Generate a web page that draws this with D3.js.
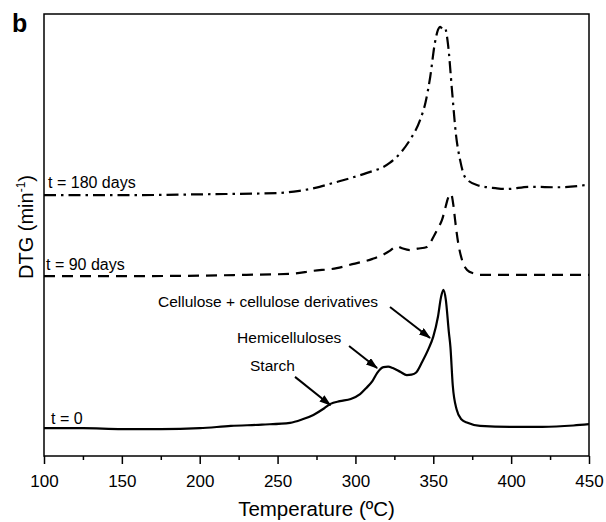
<!DOCTYPE html>
<html>
<head>
<meta charset="utf-8">
<script src="https://cdn.jsdelivr.net/npm/d3@7"></script>
<style>
  body { margin: 0; background: #fff; }
  text { font-family: "Liberation Sans", Arial, sans-serif; fill: #000; }
</style>
</head>
<body>
<div id="chart"></div>
<script>
// temperatures (ºC) and DTG readings (arbitrary units, curves are offset)
const t0_temp = [100, 125, 150, 175, 200, 220, 240, 258, 266, 273, 280, 284, 290, 297, 303, 307, 311, 314, 318, 321, 324, 329, 333, 336, 339, 343, 347, 350, 353, 355, 356.5, 358, 360, 361, 362.5, 365, 368, 372, 380, 400, 420, 440, 450];
const t0_dtg  = [6.3, 6.3, 6.1, 6.1, 6.3, 6.8, 7.1, 7.5, 8.3, 9.3, 10.8, 11.8, 12.4, 12.9, 14.0, 15.4, 17.0, 18.8, 20.1, 20.2, 19.9, 19.0, 18.3, 18.4, 18.9, 21.4, 24.3, 27.0, 31.5, 36.0, 37.6, 35.5, 28.0, 24.7, 16.0, 10.5, 8.3, 7.5, 6.8, 6.6, 6.6, 6.9, 7.2];

const t90_temp = [100, 150, 200, 230, 258, 273, 288, 298, 311, 318, 322, 325, 327, 330, 335, 340, 346, 350, 353, 355.6, 358, 359.5, 361.4, 363, 364, 366, 368.5, 371.7, 376, 380, 450];
const t90_dtg  = [40.7, 40.7, 40.8, 41.0, 41.2, 41.9, 42.5, 43.4, 44.6, 45.6, 46.4, 47.2, 47.4, 47.0, 46.6, 46.9, 47.3, 49.5, 51.5, 53.4, 56.5, 58.4, 59.3, 56.5, 53.4, 48.2, 44.3, 42.1, 41.3, 41.0, 41.0];

const t180_temp = [100, 150, 200, 250, 264, 277, 286, 297, 307, 322, 329, 335, 341.5, 345, 348, 351, 353, 354.5, 356, 357.5, 359.5, 362, 364.6, 367.2, 370.4, 378, 390, 397, 412, 430, 450];
const t180_dtg  = [59.0, 59.0, 59.2, 59.5, 60.0, 60.9, 61.8, 62.9, 64.0, 66.3, 68.6, 71.5, 76.0, 80.0, 85.7, 93.4, 96.4, 97.1, 96.6, 96.8, 93.0, 82.8, 72.6, 67.0, 63.1, 61.3, 60.6, 60.4, 60.9, 60.8, 61.4];

const curve_labels = ["t = 0", "t = 90 days", "t = 180 days"];
const x_ticks = [100, 150, 200, 250, 300, 350, 400, 450];
const x_minor = [125, 175, 225, 275, 325, 375, 425];
const annotations = ["Starch", "Hemicelluloses", "Cellulose + cellulose derivatives"];

const W = 606, H = 522;
const margin = { top: 14, right: 17, bottom: 66, left: 44 };
const width = W - margin.left - margin.right;
const height = H - margin.top - margin.bottom;

const svg = d3.select("#chart").append("svg")
  .attr("width", W)
  .attr("height", H);

const g = svg.append("g")
  .attr("transform", `translate(${margin.left},${margin.top})`);

const x = d3.scaleLinear().domain([100, 450]).range([0, width]);
const y = d3.scaleLinear().domain([0, 100]).range([height, 0]);

// arrow head for the annotations
svg.append("defs").append("marker")
  .attr("id", "arrow")
  .attr("viewBox", "0 0 12 8")
  .attr("refX", 11)
  .attr("refY", 4)
  .attr("markerUnits", "userSpaceOnUse")
  .attr("markerWidth", 12)
  .attr("markerHeight", 8)
  .attr("orient", "auto")
  .append("path")
  .attr("d", "M0,0 L12,4 L0,8 Z")
  .attr("fill", "#000");

const line = d3.line()
  .x(d => x(d[0]))
  .y(d => y(d[1]))
  .curve(d3.curveMonotoneX);

const series = [
  { temp: t0_temp, dtg: t0_dtg, dash: null },
  { temp: t90_temp, dtg: t90_dtg, dash: "11,7" },
  { temp: t180_temp, dtg: t180_dtg, dash: "12,5,2.5,5" }
];

series.forEach(s => {
  g.append("path")
    .datum(d3.zip(s.temp, s.dtg))
    .attr("fill", "none")
    .attr("stroke", "#000")
    .attr("stroke-width", 2.2)
    .attr("stroke-dasharray", s.dash)
    .attr("d", line);
});

// curve labels, placed just above the left end of each trace
const label_pos = [[104.5, 7.2], [101.3, 42.1], [102.6, 60.6]];
curve_labels.forEach((txt, i) => {
  g.append("text")
    .attr("x", x(label_pos[i][0]))
    .attr("y", y(label_pos[i][1]))
    .attr("font-size", 16)
    .text(txt);
});

// annotations with arrows pointing at the decomposition stages
const ann_text = [[232.3, 19.2], [224.0, 25.6], [173.2, 33.7]];
const ann_arrow = [
  [[261.2, 17.9], [284.0, 11.5]],
  [[295.9, 24.9], [313.9, 19.9]],
  [[322.2, 33.7], [347.9, 26.7]]
];
annotations.forEach((txt, i) => {
  g.append("text")
    .attr("x", x(ann_text[i][0]))
    .attr("y", y(ann_text[i][1]))
    .attr("font-size", 15.5)
    .text(txt);
  g.append("line")
    .attr("x1", x(ann_arrow[i][0][0]))
    .attr("y1", y(ann_arrow[i][0][1]))
    .attr("x2", x(ann_arrow[i][1][0]))
    .attr("y2", y(ann_arrow[i][1][1]))
    .attr("stroke", "#000")
    .attr("stroke-width", 2)
    .attr("marker-end", "url(#arrow)");
});

// frame
g.append("rect")
  .attr("width", width)
  .attr("height", height)
  .attr("fill", "none")
  .attr("stroke", "#000")
  .attr("stroke-width", 1.5);

// x axis, major and minor ticks
const xAxis = g.append("g")
  .attr("transform", `translate(0,${height})`)
  .call(d3.axisBottom(x).tickValues(x_ticks).tickSize(8).tickPadding(11).tickFormat(d3.format("d")));
xAxis.select(".domain").remove();
xAxis.selectAll("line").attr("stroke-width", 1.5);
xAxis.selectAll("text")
  .attr("font-size", 17)
  .style("font-family", '"Liberation Sans", Arial, sans-serif');

const xMinor = g.append("g")
  .attr("transform", `translate(0,${height})`)
  .call(d3.axisBottom(x).tickValues(x_minor).tickSize(4).tickFormat(""));
xMinor.select(".domain").remove();
xMinor.selectAll("line").attr("stroke-width", 1.5);

// axis titles
svg.append("text")
  .attr("x", margin.left + width / 2)
  .attr("y", 516)
  .attr("text-anchor", "middle")
  .attr("font-size", 20.5)
  .text("Temperature (ºC)");

const yTitle = svg.append("text")
  .attr("transform", `translate(33,${margin.top + 213}) rotate(-90)`)
  .attr("text-anchor", "middle")
  .attr("font-size", 20);
yTitle.append("tspan").text("DTG (min");
yTitle.append("tspan").attr("font-size", 12).attr("dy", -8).text("-1");
yTitle.append("tspan").attr("dy", 8).text(")");

// panel letter
svg.append("text")
  .attr("x", 12)
  .attr("y", 32)
  .attr("font-size", 25)
  .attr("font-weight", "bold")
  .text("b");
</script>
</body>
</html>
